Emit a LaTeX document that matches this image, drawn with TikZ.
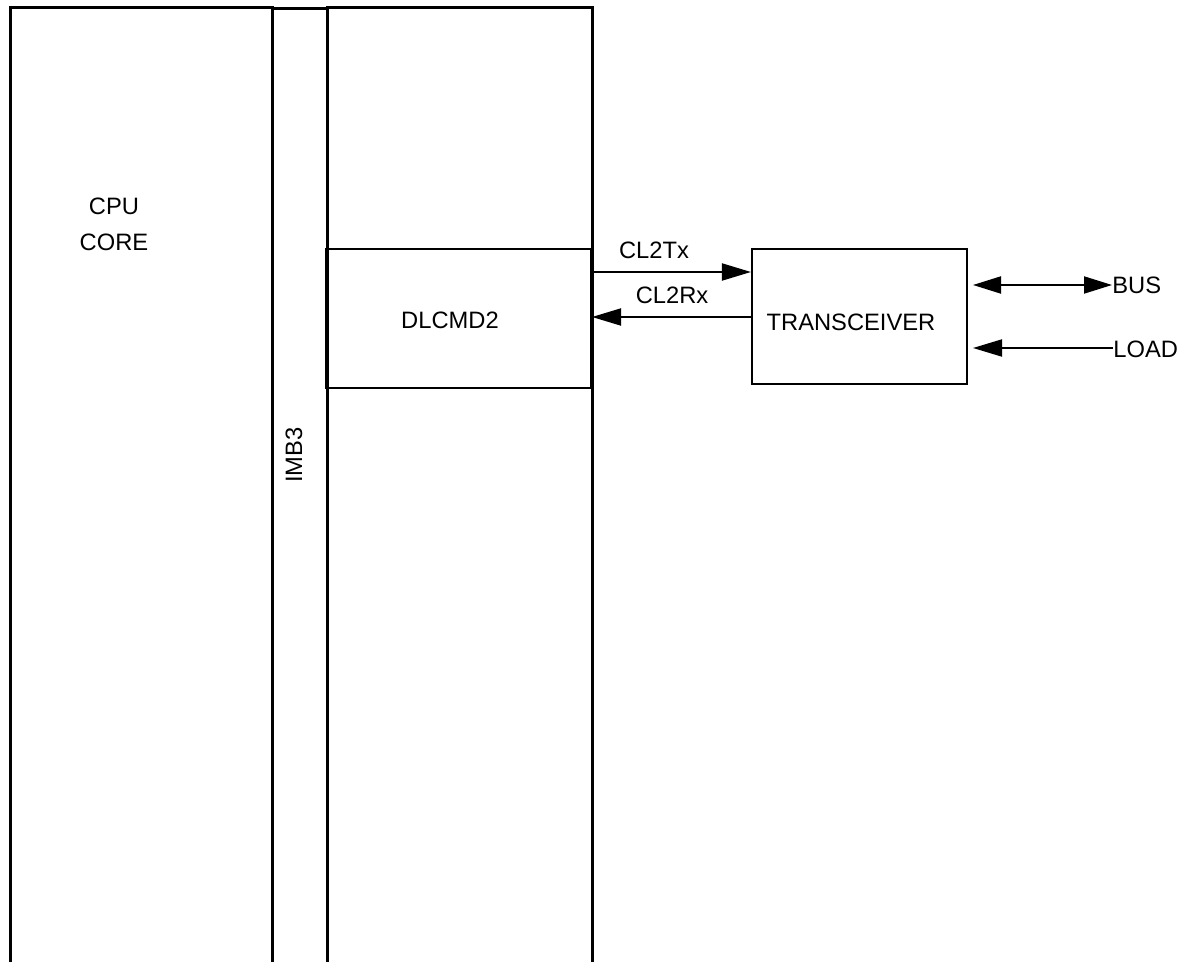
\documentclass[tikz,border=0pt]{standalone}
\usepackage{fontspec}
\setmainfont{Liberation Sans}
\usetikzlibrary{arrows.meta, positioning, calc}

\begin{document}
\begin{tikzpicture}[
  x=0.02cm, y=-0.02cm,
  every node/.style={font=\fontsize{13.5}{16}\selectfont},
  colbox/.style={rectangle, draw, line width=1.6pt, anchor=north west, minimum height=20cm, inner sep=0pt},
  blockbox/.style={rectangle, draw, line width=1.2pt, inner sep=0pt, align=center},
  sigline/.style={line width=1.1pt, -{Triangle[length=0.58cm, width=0.34cm]}},
  bothline/.style={line width=1.1pt, {Triangle[length=0.56cm, width=0.34cm]}-{Triangle[length=0.56cm, width=0.34cm]}},
  pinlabel/.style={anchor=west, inner sep=0pt},
]

\useasboundingbox (0,0) rectangle (1181,962);
\clip (0,0) rectangle (1181,962);

% Columns (open at the bottom)
\node[colbox, minimum width=5.24cm] (cpu) at (9,6) {};
\node[colbox, minimum width=1.1cm] (imb) at (271,7) {};
\node[colbox, minimum width=5.3cm] (periph) at (326,6) {};

\node[align=center] (cpulbl) at (114,224) {CPU\\[4.5pt]CORE};
\node[rotate=90] (imblbl) at (294,455) {IMB3};

% Blocks
\node[blockbox, minimum width=5.3cm, minimum height=2.78cm,
  label={[name=dlclbl, xshift=-0.17cm, yshift=-0.03cm]center:DLCMD2}] (dlc) at (458.5,318.5) {};
\node[blockbox, minimum width=4.3cm, minimum height=2.7cm,
  label={[name=trxlbl, xshift=-0.17cm, yshift=-0.11cm]center:TRANSCEIVER}] (trx) at (859.5,316.5) {};

% Signals between DLCMD2 and transceiver
\node (txlbl) at (654,250) {CL2Tx};
\node (rxlbl) at (672,295) {CL2Rx};
\draw[sigline] (dlc.east |- 0,272) -- (trx.west |- 0,272);
\draw[sigline] (trx.west |- 0,317) -- (dlc.east |- 0,317);

% Bus side
\node[pinlabel] (buslbl) at (1112,285) {BUS};
\node[pinlabel] (loadlbl) at (1113,349.5) {LOAD};
\coordinate (busin) at (973,285);
\coordinate (loadin) at (973,348);
\draw[bothline] (busin) -- (buslbl.west |- busin);
\draw[sigline] (loadlbl.west |- loadin) -- (loadin);

\end{tikzpicture}
\end{document}
